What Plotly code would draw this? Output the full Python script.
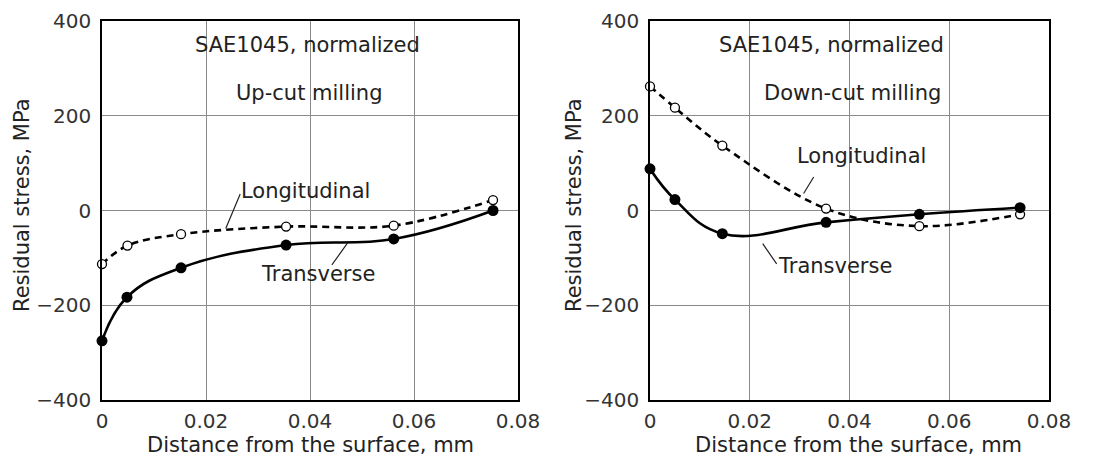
import plotly.graph_objects as go

# Up-cut milling (left)
up_x = [0.0, 0.0049, 0.0152, 0.0354, 0.0561, 0.0752]
up_long = [-113, -74, -50, -34, -32, 22]
up_x_t = [0.0, 0.0048, 0.0152, 0.0354, 0.0561, 0.0752]
up_trans = [-275, -183, -121, -73, -60, 0]

# Down-cut milling (right)
dn_x = [0.0, 0.005, 0.0145, 0.0353, 0.054, 0.0742]
dn_long = [262, 217, 137, 4, -33, -8]
dn_trans = [88, 23, -49, -25, -8, 6]

x_ticks = [0, 0.02, 0.04, 0.06, 0.08]
x_tick_text = ["0", "0.02", "0.04", "0.06", "0.08"]
y_ticks = [-400, -200, 0, 200, 400]

FONT = "DejaVu Sans, Arial, sans-serif"
W, H = 1087, 451   # page body has an 8px margin
OFF = 8

def px(x):
    return (x - OFF) / W

def py(y):
    return (H - (y - OFF)) / H

fig = go.Figure()

def add_pair(xl, yl, xt, yt, xa, ya):
    fig.add_trace(go.Scatter(
        x=xl, y=yl, mode="lines+markers", xaxis=xa, yaxis=ya,
        line=dict(color="black", width=2.6, dash="7px,5px", shape="spline", smoothing=1.0),
        marker=dict(symbol="circle", size=9, color="white", line=dict(color="black", width=1.3)),
        cliponaxis=False, showlegend=False))
    fig.add_trace(go.Scatter(
        x=xt, y=yt, mode="lines+markers", xaxis=xa, yaxis=ya,
        line=dict(color="black", width=2.6, shape="spline", smoothing=1.2),
        marker=dict(symbol="circle", size=11, color="black"),
        cliponaxis=False, showlegend=False))

add_pair(up_x, up_long, up_x_t, up_trans, "x", "y")
add_pair(dn_x, dn_long, dn_x, dn_trans, "x2", "y2")

ydom = [py(400), py(21)]
axis_common = dict(showgrid=True, gridcolor="#8a8a8a", gridwidth=1, showline=True,
                   linecolor="black", linewidth=1.5, mirror=True, ticks="",
                   zeroline=False, automargin=False,
                   tickfont=dict(family=FONT, size=20, color="#333"))
fig.update_layout(
    width=W, height=H, plot_bgcolor="white", paper_bgcolor="white",
    margin=dict(l=0, r=0, t=0, b=0),
    xaxis=dict(domain=[px(102), px(518)], range=[0, 0.08], tickvals=x_ticks,
               ticktext=x_tick_text, anchor="y", ticklabelstandoff=2, **axis_common),
    yaxis=dict(domain=ydom, range=[-400, 400], tickvals=y_ticks, anchor="x",
               ticklabelstandoff=5, **axis_common),
    xaxis2=dict(domain=[px(650), px(1049)], range=[0, 0.08], tickvals=x_ticks,
                ticktext=x_tick_text, anchor="y2", ticklabelstandoff=2, **axis_common),
    yaxis2=dict(domain=ydom, range=[-400, 400], tickvals=y_ticks, anchor="x2",
                ticklabelstandoff=5, **axis_common),
)

tf = dict(family=FONT, size=21, color="#222")
anns = []
# axis titles
for cx in [310, 858]:
    anns.append(dict(xref="paper", yref="paper", x=px(cx), y=py(445),
                     text="Distance from the surface, mm", showarrow=False, font=tf,
                     xanchor="center", yanchor="middle"))
for cx in [22, 574]:
    anns.append(dict(xref="paper", yref="paper", x=px(cx), y=py(205),
                     text="Residual stress, MPa", showarrow=False, font=tf, textangle=-90,
                     xanchor="center", yanchor="middle"))
# panel texts
anns += [
    dict(xref="x", yref="y", x=0.0396, y=350, text="SAE1045, normalized", showarrow=False, font=tf),
    dict(xref="x", yref="y", x=0.0398, y=248, text="Up-cut milling", showarrow=False, font=tf),
    dict(xref="x2", yref="y2", x=0.0364, y=350, text="SAE1045, normalized", showarrow=False, font=tf),
    dict(xref="x2", yref="y2", x=0.0406, y=248, text="Down-cut milling", showarrow=False, font=tf),
    dict(xref="x", yref="y", x=0.0264, y=42, text="Longitudinal", showarrow=False, font=tf,
         xanchor="left", yanchor="middle"),
    dict(xref="x", yref="y", x=0.0415, y=-133, text="Transverse", showarrow=False, font=tf),
    dict(xref="x2", yref="y2", x=0.029, y=116, text="Longitudinal", showarrow=False, font=tf,
         xanchor="left", yanchor="middle"),
    dict(xref="x2", yref="y2", x=0.037, y=-118, text="Transverse", showarrow=False, font=tf),
]
# leader lines (arrow without head)
leaders = [
    ("x", "y", 0.0238, -38, 0.0267, 38),
    ("x", "y", 0.0472, -69, 0.0440, -118),
    ("x2", "y2", 0.0308, 36, 0.0330, 74),
    ("x2", "y2", 0.0226, -70, 0.0256, -116),
]
for xr, yr, x0, y0, x1, y1 in leaders:
    anns.append(dict(xref=xr, yref=yr, axref=xr, ayref=yr, x=x0, y=y0, ax=x1, ay=y1,
                     text="", showarrow=True, arrowhead=0, arrowwidth=1.2, arrowcolor="#222"))
fig.update_layout(annotations=anns)

fig.write_html("out.html")
